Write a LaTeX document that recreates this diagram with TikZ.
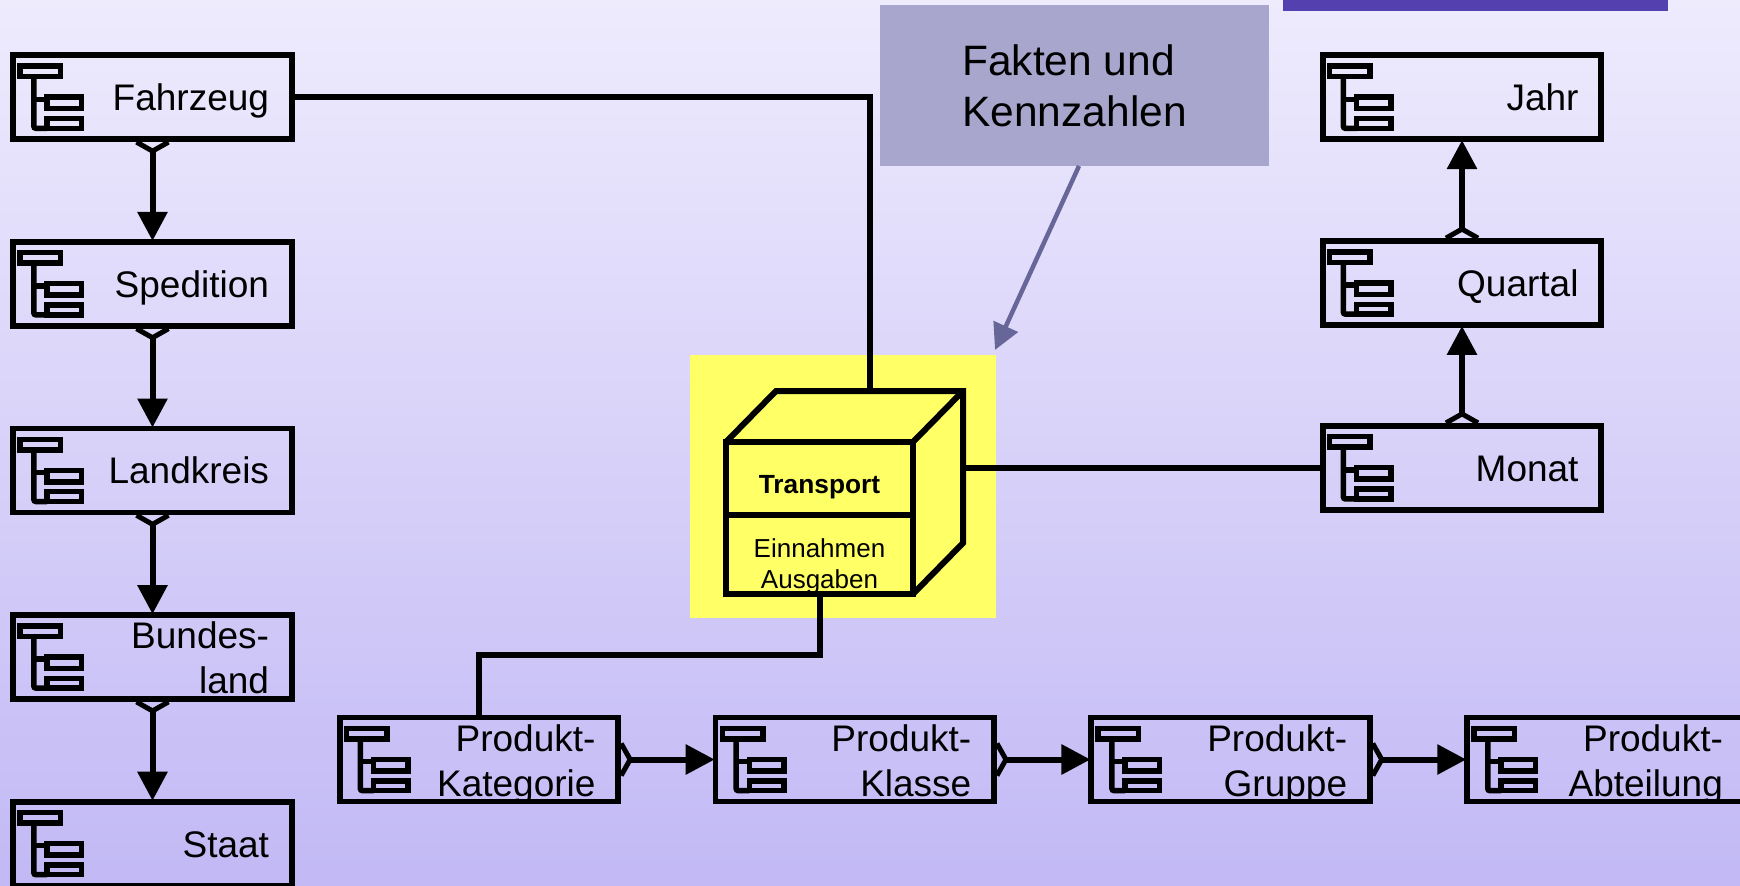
\documentclass[tikz,border=0pt]{standalone}
\usepackage{fontspec}
\setmainfont{Liberation Sans}
\usepackage{tikz}
\usetikzlibrary{arrows.meta,positioning}
\definecolor{bgtop}{HTML}{EEEBFD}
\definecolor{bgbottom}{HTML}{C2B9F5}
\definecolor{bannerblue}{HTML}{5540B0}
\definecolor{hintgrey}{HTML}{A8A6CC}
\definecolor{hintarrow}{HTML}{666699}
\definecolor{cubeyellow}{HTML}{FFFF66}
\tikzstyle{dimbox} = [draw=black,line width=5.8pt,minimum width=278.5pt,minimum height=84pt,
  inner xsep=0pt,inner ysep=0pt,text width=233pt,align=right,font=\fontsize{37}{45}\selectfont,
  text height=27pt,text depth=0pt]
\tikzstyle{twolines} = [text depth=44pt]
\tikzstyle{rollup} = [line width=6pt,shorten <=-2.5pt,shorten >=-2pt,{Straight Barb[reversed,length=9pt,width=32pt,line width=5pt]}-{Triangle[length=29pt,width=29pt]}]
\tikzstyle{link} = [line width=6pt]
\tikzstyle{cubeface} = [draw=black,line width=6pt,inner sep=0pt,outer sep=0pt,minimum width=187pt,align=center]
\tikzset{dimicon/.pic={
  \draw[line width=5.5pt] (9.75,13.75) rectangle (50.25,24.25);
  \draw[line width=5.5pt,rounded corners=2pt] (23.5,24.25) -- (23.5,76) -- (36.75,76);
  \draw[line width=5.5pt] (23.5,47) -- (36.75,47);
  \draw[line width=5.5pt] (36.75,44.75) rectangle (71.25,56.25);
  \draw[line width=5.5pt] (36.75,66.2) rectangle (71.25,76);
}}

\begin{document}
\begin{tikzpicture}[x=1pt,y=-1pt]
  	\clip (0,0) rectangle (1740,886);
  	\shade[top color=bgtop,bottom color=bgbottom] (0,0) rectangle (1740,886);
  	\fill[bannerblue] (1283,0) rectangle (1668,11);
  	\fill[cubeyellow] (690,355) rectangle (996,618);
  	
  	% left column
  	\node[dimbox] (fahrzeug) at (152.5,97.2) {Fahrzeug};
  	\node[dimbox,below=96.8pt of fahrzeug] (spedition) {Spedition};
  	\node[dimbox,below=96.8pt of spedition] (landkreis) {Landkreis};
  	\node[dimbox,twolines,below=96.8pt of landkreis] (bundesland) {Bundes-\\land};
  	\node[dimbox,below=96.8pt of bundesland] (staat) {Staat};
  	
  	% right column
  	\node[dimbox] (jahr) at (1462,97.2) {Jahr};
  	\node[dimbox,below=96pt of jahr] (quartal) {Quartal};
  	\node[dimbox,below=95pt of quartal] (monat) {Monat};
  	
  	% bottom row
  	\node[dimbox,twolines] (kategorie) at (479,759.5) {Produkt-\\Kategorie};
  	\node[dimbox,twolines,right=91.5pt of kategorie] (klasse) {Produkt-\\Klasse};
  	\node[dimbox,twolines,right=91.5pt of klasse] (gruppe) {Produkt-\\Gruppe};
  	\node[dimbox,twolines,right=91.5pt of gruppe] (abteilung) {Produkt-\\Abteilung};
  	
  	\foreach \n in {fahrzeug,spedition,landkreis,bundesland,staat,jahr,quartal,monat,kategorie,klasse,gruppe,abteilung}
  	  \pic at (\n.north west) {dimicon};
  	
  	\draw[rollup] (fahrzeug) -- (spedition);
  	\draw[rollup] (spedition) -- (landkreis);
  	\draw[rollup] (landkreis) -- (bundesland);
  	\draw[rollup] (bundesland) -- (staat);
  	\draw[rollup] (quartal) -- (jahr);
  	\draw[rollup] (monat) -- (quartal);
  	\draw[rollup] (kategorie) -- (klasse);
  	\draw[rollup] (klasse) -- (gruppe);
  	\draw[rollup] (gruppe) -- (abteilung);
  	
  	% cube
  	\node[cubeface,minimum height=73pt,font=\fontsize{26.3}{31}\selectfont\bfseries,text height=29pt,text depth=0pt] (transport) at (819.5,478.5) {Transport};
  	\node[cubeface,minimum height=79pt,font=\fontsize{26}{31}\selectfont,text height=67pt,text depth=0pt,below=0pt of transport] (kennzahlen) {Einnahmen\\Ausgaben};
  	\coordinate (cubetop) at (870,391);
  	\coordinate (cuberight) at (963,0 |- monat);
  	\draw[line width=6pt,line join=miter] (transport.north west) -- (776,391) -- (963,391) -- (963,543) -- (kennzahlen.south east);
  	\draw[line width=6pt] (transport.north east) -- (963,391);
  	
  	\draw[link] (fahrzeug) -| (cubetop);
  	\draw[link] (cuberight) -- (monat);
  	\draw[link] (kennzahlen.south) -- ++(0,61) -| (kategorie.north);
  	
  	% callout
  	\node[fill=hintgrey,minimum width=389pt,minimum height=161pt,align=left,font=\fontsize{42.5}{51}\selectfont] (hint) at (1074.5,85.5) {Fakten und\\Kennzahlen};
  	\coordinate (hinttip) at (995,350);
  	\draw[hintarrow,line width=4.5pt,-{Triangle[length=26pt,width=26pt]}] (1079,166) -- (hinttip);
\end{tikzpicture}
\end{document}
